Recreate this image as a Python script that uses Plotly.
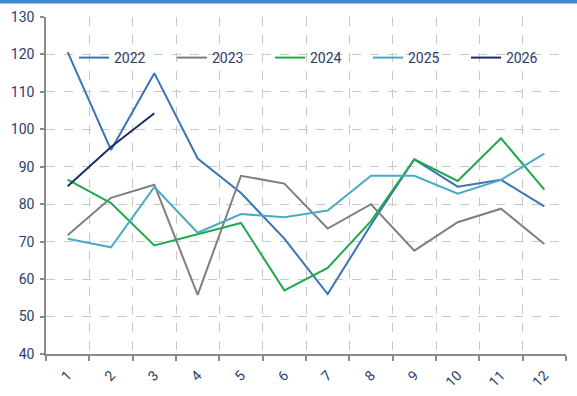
import plotly.graph_objects as go

months = [1, 2, 3, 4, 5, 6, 7, 8, 9, 10, 11, 12]
tick_labels = ["1", "2", "3", "4", "5", "6", "7", "8", "9", "10", "11", "12"]

v2022 = [120.6, 94.5, 115.0, 92.2, 83.0, 70.8, 56.0, 74.5, 92.0, 84.7, 86.5, 79.4]
v2023 = [71.7, 81.7, 85.2, 55.8, 87.6, 85.5, 73.5, 80.0, 67.6, 75.2, 78.8, 69.4]
v2024 = [86.6, 80.3, 69.0, 72.0, 75.0, 57.0, 63.0, 75.5, 92.0, 86.2, 97.6, 83.9]
v2025 = [70.8, 68.5, 84.6, 72.4, 77.4, 76.5, 78.3, 87.6, 87.6, 82.8, 86.5, 93.5]
v2026 = [84.8, 95.3, 104.3]

series = [
    ("2022", v2022, "#3a74b6"),
    ("2023", v2023, "#7f7f7f"),
    ("2024", v2024, "#1eaa4c"),
    ("2025", v2025, "#4aaac4"),
    ("2026", v2026, "#1c2d66"),
]

fig = go.Figure()
for name, vals, col in series:
    fig.add_trace(go.Scatter(
        x=months[:len(vals)], y=vals, name=name, mode="lines",
        line=dict(color=col, width=2),
    ))

font_family = "Roboto, Noto Sans, sans-serif"
txt_col = "#2e3c6a"
grid_col = "#c8c8c8"

fig.update_layout(
    width=577, height=396,
    margin=dict(l=46, r=11, t=17, b=42, autoexpand=False),
    paper_bgcolor="white", plot_bgcolor="white",
    font=dict(family=font_family, size=14, color=txt_col),
    showlegend=True,
    legend=dict(
        orientation="h", xref="container", yref="container",
        x=74 / 577, y=1 - 58 / 396, xanchor="left", yanchor="middle",
        bgcolor="rgba(0,0,0,0)", font=dict(size=14, color=txt_col),
        entrywidth=53, entrywidthmode="pixels", tracegroupgap=0,
    ),
    xaxis=dict(
        range=[0.5, 12.5], tickmode="array", tickvals=months, ticktext=tick_labels,
        tickangle=-45, showgrid=False, zeroline=False, automargin=False,
        showline=True, linecolor="#8a8a8a", linewidth=1.5,
        ticks="", tickfont=dict(size=14, color=txt_col), ticklabelstandoff=6,
        minor=dict(tick0=0.5, dtick=1, showgrid=True, gridcolor=grid_col,
                   griddash="dash", gridwidth=1, ticks="outside", ticklen=5,
                   tickcolor="#8a8a8a", tickwidth=1.5),
    ),
    yaxis=dict(
        range=[40, 130], dtick=10, showgrid=True, gridcolor=grid_col,
        griddash="dash", gridwidth=1, zeroline=False, automargin=False,
        showline=True, linecolor="#8a8a8a", linewidth=1.5,
        ticks="outside", ticklen=4, tickcolor="#8a8a8a", tickwidth=1.5,
        tickfont=dict(size=14, color=txt_col), ticklabelstandoff=3,
    ),
    shapes=[
        dict(type="rect", xref="paper", yref="paper", x0=-0.1, x1=1.1,
             y0=1.0 + 13.5 / 337, y1=1.0 + 17.5 / 337,
             fillcolor="#3d88d2", line=dict(width=0), layer="above"),
    ],
)

fig.write_html("out.html")
